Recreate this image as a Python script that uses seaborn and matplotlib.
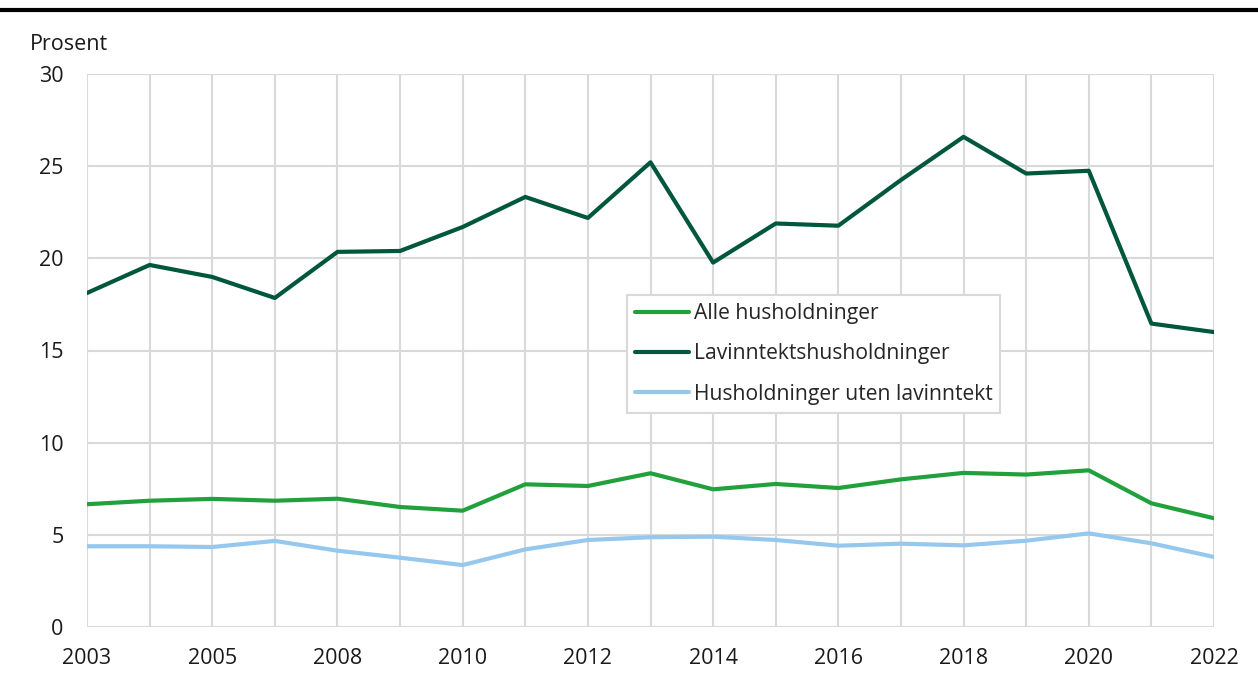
import matplotlib
matplotlib.use("Agg")
import matplotlib.pyplot as plt
import seaborn as sns
import pandas as pd
from matplotlib.lines import Line2D

years = ["2003", "2004", "2005", "2007", "2008", "2009", "2010", "2011", "2012", "2013",
         "2014", "2015", "2016", "2017", "2018", "2019", "2020", "2021", "2022"]
alle = [6.66, 6.85, 6.95, 6.85, 6.96, 6.51, 6.31, 7.74, 7.65, 8.34,
        7.47, 7.76, 7.54, 8.01, 8.36, 8.27, 8.50, 6.71, 5.90]
lavinntekt = [18.12, 19.64, 18.99, 17.85, 20.35, 20.40, 21.70, 23.33, 22.19, 25.21,
              19.77, 21.89, 21.77, 24.25, 26.59, 24.60, 24.75, 16.46, 16.00]
uten_lav = [4.38, 4.38, 4.34, 4.67, 4.14, 3.76, 3.36, 4.21, 4.72, 4.87,
            4.90, 4.72, 4.41, 4.52, 4.43, 4.68, 5.08, 4.54, 3.80]
series_names = ["Alle husholdninger", "Lavinntektshusholdninger", "Husholdninger uten lavinntekt"]
colors = ["#22a03c", "#00573d", "#96c8ee"]
ytick_vals = [0, 5, 10, 15, 20, 25, 30]

rows = []
for name, vals in zip(series_names, [alle, lavinntekt, uten_lav]):
    for i, (yr, v) in enumerate(zip(years, vals)):
        rows.append({"pos": i, "year": yr, "value": v, "serie": name})
df = pd.DataFrame(rows)

sns.set_theme(style="white")
plt.rcParams['font.family'] = ['Open Sans', 'DejaVu Sans']

FS = 15.5
fig = plt.figure(figsize=(12.58, 6.75), dpi=100)
ax = fig.add_axes([87/1258, 1-627/675, (1214-87)/1258, (627-74)/675])

sns.lineplot(data=df, x="pos", y="value", hue="serie", hue_order=series_names,
             palette=colors, linewidth=3.0, ax=ax, legend=False, zorder=3)

ax.set_xlim(0, len(years) - 1)
ax.set_ylim(0, 30)
ax.set_yticks(ytick_vals)
ax.set_yticklabels([str(v) for v in ytick_vals], fontsize=FS, color="#1a1a1a")
ax.set_xticks(range(0, len(years), 2))
ax.set_xticklabels([years[i] for i in range(0, len(years), 2)], fontsize=FS, color="#1a1a1a")
ax.set_xticks(range(len(years)), minor=True)
ax.tick_params(axis="both", which="both", length=0)
ax.tick_params(axis="y", pad=17)
ax.tick_params(axis="x", pad=15)
ax.set_xlabel("")
ax.set_ylabel("")
ax.grid(True, which="both", axis="x", color="#d9d9d9", linewidth=1.5, zorder=0)
ax.grid(True, which="major", axis="y", color="#d9d9d9", linewidth=1.5, zorder=0)
ax.set_axisbelow(True)
for s in ax.spines.values():
    s.set_visible(False)

fig.text(30/1258, 1-45/675, "Prosent", fontsize=FS, va="center", ha="left", color="#1a1a1a")

# top black rule
fig.add_artist(Line2D([0, 1], [1-10/675, 1-10/675], transform=fig.transFigure,
                      color="black", linewidth=3.0))

handles = [Line2D([0], [0], color=c, linewidth=3.0) for c in colors]
leg = ax.legend(handles, series_names, loc="upper left",
                bbox_to_anchor=(627/1258, 1-295/675), bbox_transform=fig.transFigure,
                fontsize=15.2, frameon=True, fancybox=False, handlelength=2.55,
                handletextpad=0.22, labelspacing=0.92, borderpad=0.38, borderaxespad=0)
leg.get_frame().set_edgecolor("#d9d9d9")
leg.get_frame().set_linewidth(1.5)
leg.get_frame().set_facecolor("white")
leg.get_frame().set_alpha(1)
leg.set_zorder(5)

fig.savefig("out.png", dpi=100)
